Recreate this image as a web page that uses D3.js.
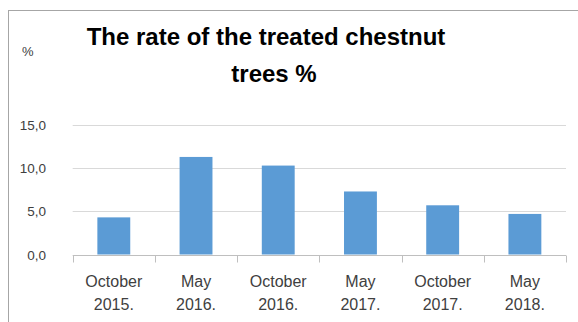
<!DOCTYPE html>
<html>
<head>
<meta charset="utf-8">
<script src="https://cdn.jsdelivr.net/npm/d3@7"></script>
<style>
  html, body { margin: 0; padding: 0; background: #fff; }
  svg { display: block; font-family: "Liberation Sans", Arial, sans-serif; }
</style>
</head>
<body>
<svg id="chart" width="578" height="322"></svg>
<script>
// ── Data ─────────────────────────────────────────────────────────────────────
const periods = ["October", "May", "October", "May", "October", "May"];
const years   = ["2015.", "2016.", "2016.", "2017.", "2017.", "2018."];
const rates   = [4.3, 11.3, 10.3, 7.3, 5.7, 4.7];
const yTicks  = [0, 5, 10, 15];

const W = 578, H = 322;
const svg = d3.select("#chart");

// outer chart frame (runs off the right/bottom edge)
svg.append("rect")
  .attr("x", 8.5).attr("y", 10.5).attr("width", 600).attr("height", 400)
  .attr("fill", "#fff").attr("stroke", "#a6a6a6").attr("stroke-width", 1);

const m = { left: 72.7, right: 566, top: 125, bottom: 254.5 };

const cats = rates.map((d, i) => i);
const x = d3.scaleBand().domain(cats).range([m.left, m.right]).paddingInner(0.6).paddingOuter(0.3);
const xStep = d3.scaleBand().domain(cats).range([m.left, m.right]);
const y = d3.scaleLinear().domain([0, 15]).range([m.bottom, m.top]);

// gridlines
svg.append("g").selectAll("line")
  .data(yTicks.filter(d => d > 0))
  .join("line")
  .attr("x1", m.left).attr("x2", m.right)
  .attr("y1", d => Math.round(y(d)) + 0.5).attr("y2", d => Math.round(y(d)) + 0.5)
  .attr("stroke", "#d9d9d9").attr("stroke-width", 1);

// y tick labels
svg.append("g").selectAll("text")
  .data(yTicks)
  .join("text")
  .attr("x", 46).attr("y", d => y(d) + 5)
  .attr("text-anchor", "end")
  .attr("font-size", "13.5px").attr("fill", "#404040")
  .text(d => d3.format(".1f")(d).replace(".", ","));

// bars
svg.append("g").selectAll("rect")
  .data(rates)
  .join("rect")
  .attr("x", (d, i) => x(i))
  .attr("width", x.bandwidth())
  .attr("y", d => y(d))
  .attr("height", d => y(0) - y(d))
  .attr("fill", "#5b9bd5");

// x axis line + ticks
const axisY = Math.round(y(0)) + 0.5;
svg.append("line")
  .attr("x1", m.left).attr("x2", m.right)
  .attr("y1", axisY).attr("y2", axisY)
  .attr("stroke", "#bfbfbf");
svg.append("g").selectAll("line")
  .data(cats.concat([cats.length]))
  .join("line")
  .attr("x1", i => Math.round(m.left + i * xStep.step()) + 0.5)
  .attr("x2", i => Math.round(m.left + i * xStep.step()) + 0.5)
  .attr("y1", axisY).attr("y2", axisY + 7)
  .attr("stroke", "#bfbfbf");

// category labels (two lines)
const lab = svg.append("g").selectAll("text")
  .data(cats)
  .join("text")
  .attr("text-anchor", "middle")
  .attr("font-size", "16px").attr("fill", "#404040");
lab.append("tspan")
  .attr("x", i => xStep(i) + xStep.bandwidth() / 2).attr("y", 287)
  .text(i => periods[i]);
lab.append("tspan")
  .attr("x", i => xStep(i) + xStep.bandwidth() / 2).attr("y", 310)
  .text(i => years[i]);

// title
const title = svg.append("text")
  .attr("text-anchor", "middle")
  .attr("font-size", "24px").attr("font-weight", "700").attr("fill", "#000");
title.append("tspan").attr("x", 266).attr("y", 45).text("The rate of the treated chestnut");
title.append("tspan").attr("x", 274).attr("y", 82).text("trees %");

// unit label
svg.append("text")
  .attr("x", 22).attr("y", 56)
  .attr("font-size", "13px").attr("fill", "#404040")
  .text("%");
</script>
</body>
</html>
